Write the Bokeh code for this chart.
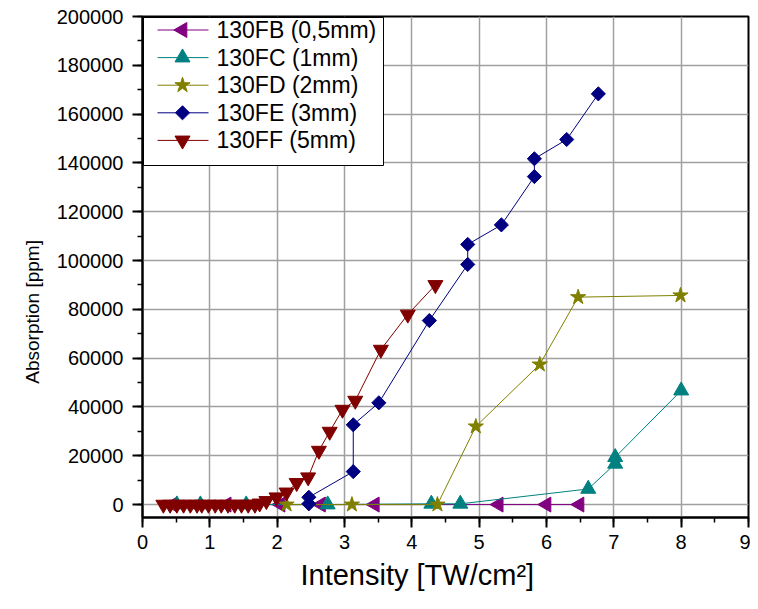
import math
from bokeh.plotting import figure
from bokeh.models import Range1d, SingleIntervalTicker, BasicTickFormatter, Title, ColumnDataSource
from bokeh.core.properties import value
from bokeh.embed import file_html
from bokeh.resources import INLINE

# ---- data ----
fb_x = [0.45, 1.25, 2.05, 2.65, 3.45, 5.29, 6.00, 6.49]
fb_y = [0, 0, 0, 0, 0, 0, 0, 0]

fc_x = [0.51, 0.86, 1.54, 2.75, 4.29, 4.72, 6.62, 7.02, 7.02, 8.00]
fc_y = [0, 0, 0, 0, 300, 300, 6400, 16700, 19400, 46700]

fd_x = [2.14, 3.11, 4.38, 4.95, 5.90, 6.47, 7.99]
fd_y = [0, 0, 0, 32000, 57400, 85000, 85700]

fe_x = [2.47, 2.47, 3.13, 3.13, 3.51, 4.26, 4.83, 4.83, 5.33, 5.82, 5.82, 6.30, 6.77]
fe_y = [300, 3000, 13500, 32700, 41700, 75400, 98400, 106600, 114600, 134400, 141700, 149600, 168300]

ff_x = [0.31, 0.41, 0.51, 0.61, 0.71, 0.81, 0.88, 0.98, 1.08, 1.17, 1.27, 1.37, 1.47,
        1.57, 1.67, 1.74, 1.84, 1.99, 2.14, 2.29, 2.46, 2.62, 2.78, 2.97, 3.16, 3.54,
        3.94, 4.35]
ff_y = [0, 0, 0, 0, 0, 0, 0, 0, 0, 0, 0, 0, 0,
        0, 0, 500, 1500, 3000, 5000, 8900, 11200, 22100, 29900, 38900, 42600, 63500,
        77900, 90000]

labels = ["130FB (0,5mm)", "130FC (1mm)", "130FD (2mm)", "130FE (3mm)", "130FF (5mm)"]
x_label = "Intensity [TW/cm\u00b2]"
y_label = "Absorption [ppm]"

FONT = "Liberation Sans"

# ---- layout (pixels in the canvas) ----
W, H = 750, 600
FL, FR, FT, FB = 142, 748, 16, 517
X0, X1 = 0, 9
Y0, Y1 = -5300, 200000


def px_x(px):
    return X0 + (px - FL) * (X1 - X0) / (FR - FL)


def px_y(py):
    return Y1 - (py - FT) * (Y1 - Y0) / (FB - FT)


p = figure(width=W, height=H, output_backend="svg", toolbar_location=None,
           x_range=Range1d(X0, X1), y_range=Range1d(Y0, Y1),
           min_border_left=FL, min_border_right=W - FR, min_border_top=FT,
           min_border_bottom=H - FB, background_fill_color="white",
           border_fill_color="white")

p.outline_line_color = "black"
p.outline_line_width = 2

# axes
p.xaxis.ticker = SingleIntervalTicker(interval=1, num_minor_ticks=2)
p.yaxis.ticker = SingleIntervalTicker(interval=20000, num_minor_ticks=2)
p.yaxis.formatter = BasicTickFormatter(use_scientific=False)
for ax in (p.xaxis, p.yaxis):
    ax.axis_line_color = "black"
    ax.axis_line_width = 2
    ax.major_tick_line_color = "black"
    ax.major_tick_line_width = 2
    ax.minor_tick_line_color = "black"
    ax.minor_tick_line_width = 1.5
    ax.major_tick_in = 0
    ax.major_tick_out = 10
    ax.minor_tick_in = 0
    ax.minor_tick_out = 5
    ax.major_label_text_font = FONT
    ax.major_label_text_font_size = "20px"
    ax.major_label_text_color = "black"
p.yaxis.major_label_standoff = 9
p.xaxis.major_label_standoff = 7

p.grid.grid_line_color = "#a0a0a0"
p.grid.grid_line_width = 1.5

# axis titles
p.add_layout(Title(text=x_label, align="left", offset=300 - FL, text_font=FONT,
                   text_font_size="29px", text_font_style="normal",
                   text_color="black", standoff=11), "below")
# y title: trailing no-break spaces push the visible text below the frame centre,
# as in the reference
p.yaxis.axis_label = y_label + "\u00a0" * 17
p.yaxis.axis_label_text_font = FONT
p.yaxis.axis_label_text_font_size = "19px"
p.yaxis.axis_label_text_font_style = "normal"
p.yaxis.axis_label_text_color = "black"
p.yaxis.axis_label_standoff = 11

colors = ["#800080", "#008080", "#808000", "#000080", "#800000"]
markers = ["triangle", "triangle", "star", "square", "inverted_triangle"]
angles = [math.pi / 2, 0, 0, math.pi / 4, 0]
sizes = [15, 15, 16, 10, 15]
xs_all = [fb_x, fc_x, fd_x, fe_x, ff_x]
ys_all = [fb_y, fc_y, fd_y, fe_y, ff_y]

for xs, ys, col, mk, ang, sz in zip(xs_all, ys_all, colors, markers, angles, sizes):
    p.line(xs, ys, line_color=col, line_width=1)
    p.scatter(xs, ys, marker=mk, angle=ang, size=sz, fill_color=col, line_color=col)

# ---- legend (drawn by hand so the marker orientations match) ----
row_py = [29.5 + 27.6 * i for i in range(len(labels))]
p.quad(left=[px_x(143)], right=[px_x(383)], top=[px_y(17)], bottom=[px_y(165)],
       fill_color="white", line_color="black", line_width=1)
leg = ColumnDataSource(dict(
    x0=[px_x(157)] * 5, x1=[px_x(208)] * 5, xm=[px_x(182)] * 5,
    xt=[px_x(216)] * 5, y=[px_y(v) for v in row_py],
    color=colors, marker=markers, angle=angles, size=sizes, text=labels))
p.segment(x0="x0", y0="y", x1="x1", y1="y", line_color="color", line_width=1, source=leg)
p.scatter(x="xm", y="y", marker="marker", angle="angle", size="size",
          fill_color="color", line_color="color", source=leg)
p.text(x="xt", y="y", text="text", text_font=value(FONT), text_font_size="23px",
       text_color="black", text_baseline="middle", text_align="left", source=leg)

open("out.html", "w").write(file_html(p, INLINE))
